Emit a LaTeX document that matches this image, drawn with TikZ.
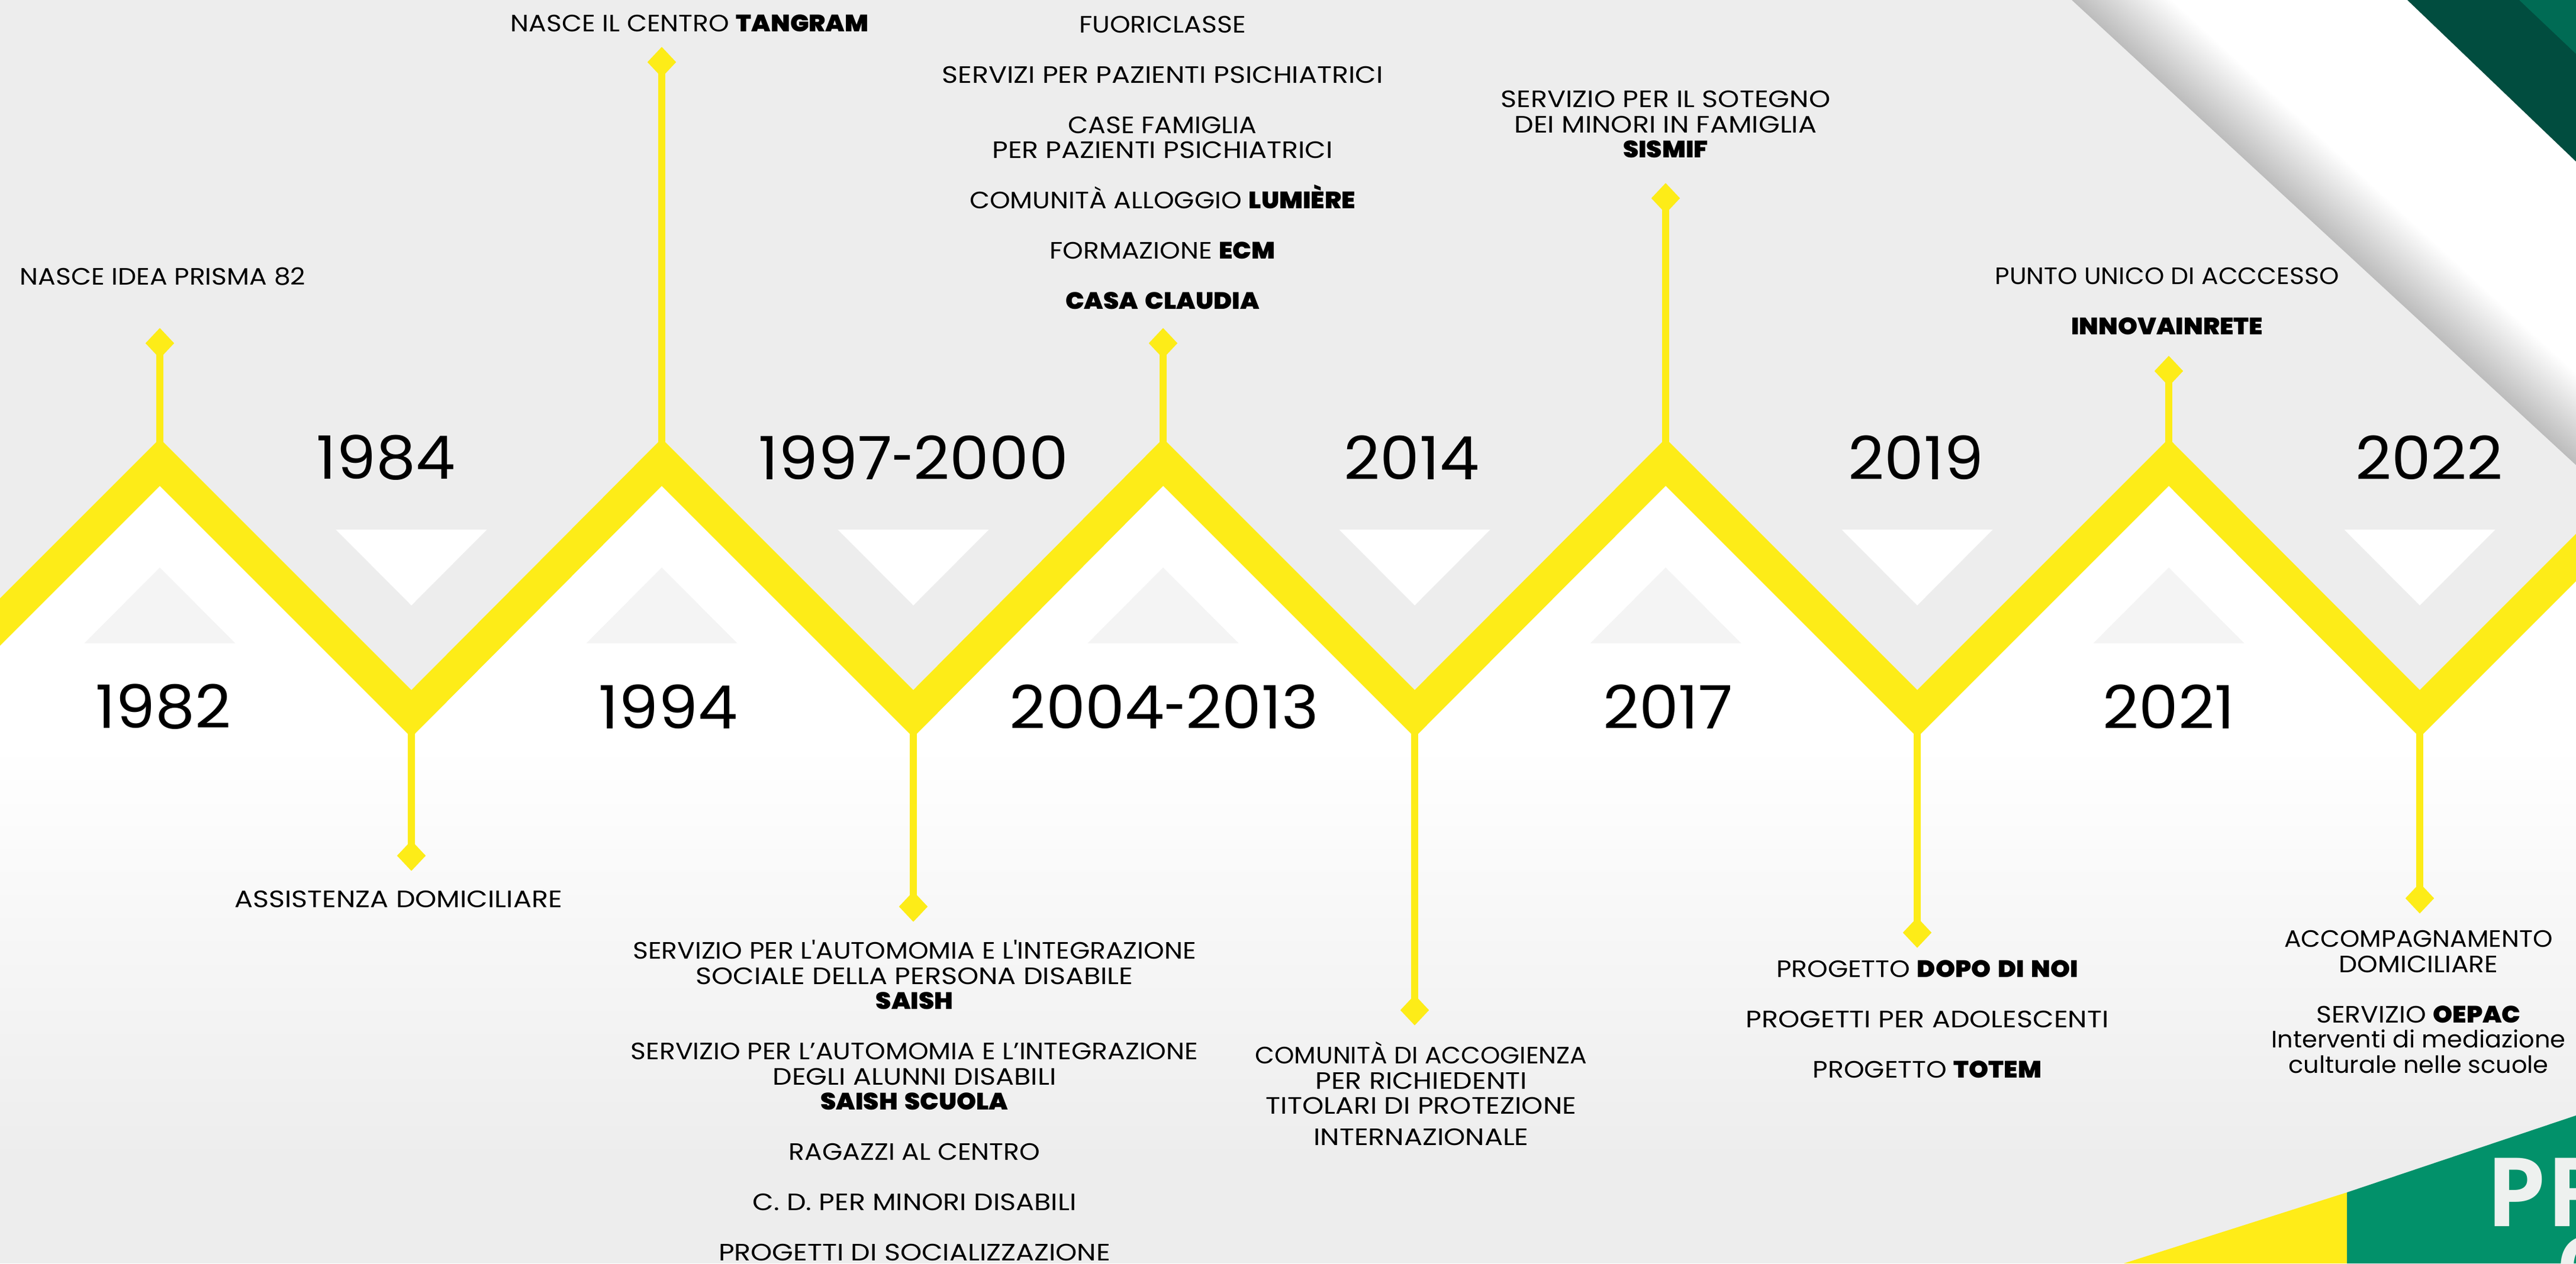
\documentclass[tikz,border=0pt]{standalone}
\usepackage{fontspec}
\setmainfont{Poppins}[UprightFeatures={FakeStretch=1.10},BoldFont={Poppins Black},BoldFeatures={FakeStretch=1.05,WordSpace=1.6}]
\newfontfamily\yearfont{Poppins}[FakeStretch=1.05]
\newfontfamily\lowerfont{Poppins}[FakeStretch=1.035]
\newfontfamily\widefont{Poppins}[FakeStretch=1.15]
\newfontfamily\tightfont{Poppins}[FakeStretch=1.06]
\newfontfamily\logofont{Open Sans}[UprightFont=*-Bold,BoldFont=*-Bold]
\definecolor{bandyellow}{HTML}{FDEC18}
\definecolor{bggray}{HTML}{EDEDED}
\definecolor{trigray}{HTML}{F4F4F4}
\definecolor{edgegray}{HTML}{BCBCBC}
\definecolor{darkgreen}{HTML}{014D3F}
\definecolor{midgreen}{HTML}{006B54}
\definecolor{logogreen}{HTML}{02916A}
\definecolor{logoyellow}{HTML}{FFEC18}
\definecolor{logotext}{HTML}{EEF1EF}
\newcommand{\yeardash}{\scalebox{0.62}[1]{-}}
\tikzset{
  yearlabel/.style={font=\yearfont\fontsize{28.8}{30}\selectfont, inner sep=0pt},
  itemlabel/.style={font=\fontsize{11.4}{12.1}\selectfont, align=center, inner sep=0pt},
  logolabel/.style={font=\logofont, text=logotext, inner sep=0pt, anchor=base west},
  stem/.style={draw=bandyellow, line width=0.115cm},
  tipmark/.style={shape=diamond, fill=bandyellow, minimum width=0.49cm, minimum height=0.52cm, inner sep=0pt},
}
\usetikzlibrary{shapes.geometric}
\begin{document}
\begin{tikzpicture}[x=1cm,y=1cm]
	\useasboundingbox (0,0) rectangle (43.52,-21.35);
	\clip (0,0) rectangle (43.52,-21.35);

	%%%%% BACKGROUND %%%%%
	\fill[white] (0,0) rectangle (43.52,-21.35);
	\shade[top color=white, bottom color=bggray] (0,-12.6) rectangle (43.52,-19.6);
	\fill[bggray] (0,-19.6) rectangle (43.52,-21.35);
	\fill[bggray] (0,0) -- (35,0) -- (43.52,-7.86) -- (43.52,-9.12) -- (40.88,-11.66) -- (36.64,-7.41) -- (32.39,-11.66) -- (28.14,-7.41) -- (23.90,-11.66) -- (19.65,-7.41) -- (15.43,-11.66) -- (11.18,-7.41) -- (6.95,-11.66) -- (2.70,-7.41) -- (0,-10.11) -- cycle;

	%%%%% CORNER %%%%%
	\begin{scope}
		\clip (35,0) -- (43.52,-7.86) -- (43.52,0) -- cycle;
		\fill[white] (35,0) rectangle (43.52,-8);
		\shade[transform canvas={shift={(35,0)}, rotate=-42.7}, top color=white, bottom color=edgegray] (-2,0) rectangle (14,1.15);
		\fill[darkgreen] (40.67,0) -- (43.52,-2.73) -- (43.52,0) -- cycle;
		\fill[midgreen] (42.56,0) -- (43.52,-0.91) -- (43.52,0) -- cycle;
	\end{scope}

	%%%%% BAND %%%%%
	\fill[bandyellow] (0,-10.11) -- (2.70,-7.41) -- (6.95,-11.66) -- (11.18,-7.41) -- (15.43,-11.66) -- (19.65,-7.41) -- (23.90,-11.66) -- (28.14,-7.41) -- (32.39,-11.66) -- (36.64,-7.41) -- (40.88,-11.66) -- (43.52,-9.02)
		-- (43.52,-9.82) -- (40.88,-12.46) -- (36.64,-8.21) -- (32.39,-12.46) -- (28.14,-8.21) -- (23.90,-12.46) -- (19.65,-8.21) -- (15.43,-12.46) -- (11.18,-8.21) -- (6.95,-12.46) -- (2.70,-8.21) -- (0,-10.91) -- cycle;

	%%%%% TRIANGLES %%%%%
	\foreach \x in {2.70,11.18,19.65,28.14,36.64}
		\fill[trigray] (\x,-9.59) -- (\x+1.275,-10.87) -- (\x-1.275,-10.87) -- cycle;
	\foreach \x in {6.95,15.43,23.90,32.39,40.88}
		\fill[white] (\x,-10.23) -- (\x+1.275,-8.95) -- (\x-1.275,-8.95) -- cycle;

	%%%%% STEMS %%%%%
	\node[tipmark] (tipa) at (2.70,-5.80) {};
	\node[tipmark] (tipb) at (6.95,-14.46) {};
	\node[tipmark] (tipc) at (11.18,-1.05) {};
	\node[tipmark] (tipd) at (15.43,-15.32) {};
	\node[tipmark] (tipe) at (19.65,-5.80) {};
	\node[tipmark] (tipf) at (23.90,-17.07) {};
	\node[tipmark] (tipg) at (28.14,-3.35) {};
	\node[tipmark] (tiph) at (32.39,-15.76) {};
	\node[tipmark] (tipi) at (36.64,-6.27) {};
	\node[tipmark] (tipj) at (40.88,-15.18) {};
	\coordinate (peaka) at (2.70,-7.8);
	\coordinate (valb) at (6.95,-12.0);
	\coordinate (peakc) at (11.18,-7.8);
	\coordinate (vald) at (15.43,-12.0);
	\coordinate (peake) at (19.65,-7.8);
	\coordinate (valf) at (23.90,-12.0);
	\coordinate (peakg) at (28.14,-7.8);
	\coordinate (valh) at (32.39,-12.0);
	\coordinate (peaki) at (36.64,-7.8);
	\coordinate (valj) at (40.88,-12.0);
	\draw[stem] (tipa.center) -- (peaka);
	\draw[stem] (tipb.center) -- (valb);
	\draw[stem] (tipc.center) -- (peakc);
	\draw[stem] (tipd.center) -- (vald);
	\draw[stem] (tipe.center) -- (peake);
	\draw[stem] (tipf.center) -- (valf);
	\draw[stem] (tipg.center) -- (peakg);
	\draw[stem] (tiph.center) -- (valh);
	\draw[stem] (tipi.center) -- (peaki);
	\draw[stem] (tipj.center) -- (valj);

	%%%%% YEARS %%%%%
	\node[yearlabel] (ya) at (2.76,-11.94) {1982};
	\node[yearlabel] (yb) at (6.52,-7.73) {1984};
	\node[yearlabel] (yc) at (11.29,-11.94) {1994};
	\node[yearlabel] (yd) at (15.43,-7.73) {1997\yeardash 2000};
	\node[yearlabel] (ye) at (19.67,-11.94) {2004\yeardash 2013};
	\node[yearlabel] (yf) at (23.85,-7.73) {2014};
	\node[yearlabel] (yg) at (28.18,-11.94) {2017};
	\node[yearlabel] (yh) at (32.37,-7.73) {2019};
	\node[yearlabel] (yi) at (36.64,-11.94) {2021};
	\node[yearlabel] (yj) at (41.04,-7.73) {2022};

	%%%%% ITEMS %%%%%
	\node[itemlabel] (ta) at (2.75,-4.67) {NASCE IDEA PRISMA 82};
	\node[itemlabel] (tb) at (6.73,-15.19) {{\widefont ASSISTENZA DOMICILIARE}};
	\node[itemlabel] (tc) at (11.65,-0.39) {NASCE IL CENTRO \textbf{TANGRAM}};
	\node[itemlabel] (td) at (19.64,-2.75) {FUORICLASSE\\[0.425cm]{\widefont SERVIZI PER PAZIENTI PSICHIATRICI}\\[0.425cm]CASE FAMIGLIA\\{\widefont PER PAZIENTI PSICHIATRICI}\\[0.425cm]COMUNITÀ ALLOGGIO \textbf{LUMIÈRE}\\[0.425cm]FORMAZIONE \textbf{ECM}\\[0.425cm]\textbf{CASA CLAUDIA}};
	\node[itemlabel] (te) at (15.45,-18.60) {SERVIZIO PER L\textquotesingle AUTOMOMIA E L\textquotesingle INTEGRAZIONE\\{\widefont SOCIALE DELLA PERSONA DISABILE}\\\textbf{SAISH}\\[0.425cm]SERVIZIO PER L’AUTOMOMIA E L’INTEGRAZIONE\\{\widefont DEGLI ALUNNI DISABILI}\\\textbf{SAISH SCUOLA}\\[0.425cm]RAGAZZI AL CENTRO\\[0.425cm]{\widefont C. D. PER MINORI DISABILI}\\[0.425cm]{\widefont PROGETTI DI SOCIALIZZAZIONE}};
	\node[itemlabel] (tf) at (24.01,-18.48) {{\tightfont COMUNITÀ DI ACCOGIENZA}\\{\widefont PER RICHIEDENTI}\\{\widefont TITOLARI DI PROTEZIONE}\\[0.1cm]{\widefont INTERNAZIONALE}};
	\node[itemlabel] (tg) at (28.14,-2.10) {{\widefont SERVIZIO PER IL SOTEGNO}\\{\widefont DEI MINORI IN FAMIGLIA}\\\textbf{SISMIF}};
	\node[itemlabel] (th) at (32.56,-17.22) {PROGETTO \textbf{DOPO DI NOI}\\[0.425cm]{\widefont PROGETTI PER ADOLESCENTI}\\[0.425cm]PROGETTO \textbf{TOTEM}};
	\node[itemlabel] (ti) at (36.61,-5.09) {{\tightfont PUNTO UNICO DI ACCCESSO}\\[0.425cm]\textbf{INNOVAINRETE}};
	\node[itemlabel] (tj) at (40.86,-16.93) {{\tightfont ACCOMPAGNAMENTO}\\DOMICILIARE\\[0.425cm]SERVIZIO \textbf{OEPAC}\\{\lowerfont Interventi di mediazione}\\{\lowerfont culturale nelle scuole}};

	%%%%% LOGO %%%%%
	\fill[logoyellow] (35.88,-21.35) -- (39.65,-20.15) -- (39.65,-21.35) -- cycle;
	\fill[logogreen] (39.65,-20.15) -- (43.52,-18.85) -- (43.52,-21.35) -- (39.65,-21.35) -- cycle;
	\node[logolabel, font=\logofont\fontsize{46}{48}\selectfont] (logotop) at (42.00,-20.72) {PR};
	\node[logolabel, font=\logofont\fontsize{40}{42}\selectfont] (logosub) at (43.18,-21.9) {C};
\end{tikzpicture}
\end{document}
